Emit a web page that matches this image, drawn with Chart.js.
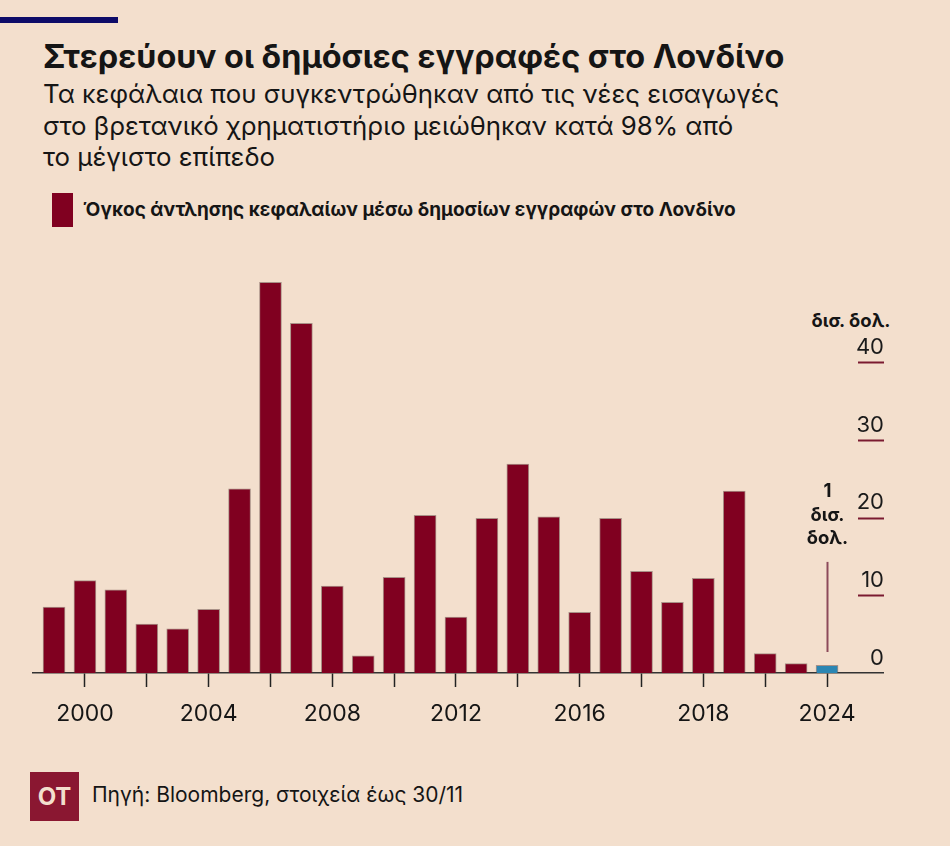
<!DOCTYPE html>
<html>
<head>
<meta charset="utf-8">
<script src="https://cdn.jsdelivr.net/npm/chart.js@4.4.1/dist/chart.umd.min.js"></script>
<style>
  html, body { margin: 0; padding: 0; }
  body { width: 950px; height: 846px; background: #f3dfcd; position: relative; overflow: hidden;
         font-family: Inter, Roboto, "Noto Sans", sans-serif; color: #151515; }
  .bar-top { position: absolute; left: 0; top: 17px; width: 118px; height: 6px; background: #0d0b68; }
  .title { position: absolute; left: 43px; top: 37px; font-size: 32.4px; font-weight: 700; line-height: 40px; white-space: nowrap; }
  .sub { position: absolute; left: 43px; top: 78px; font-size: 25.8px; line-height: 31.5px; white-space: nowrap; }
  .legend { position: absolute; left: 52px; top: 193px; height: 34px; }
  .legend .sw { position: absolute; left: 0; top: 0; width: 21px; height: 34px; background: #800020; }
  .legend .tx { position: absolute; left: 31px; top: 5px; font-size: 19px; font-weight: 700; line-height: 24px; white-space: nowrap; }
  .unit { position: absolute; left: 796px; top: 309px; width: 110px; text-align: center; font-size: 18.5px; font-weight: 700; }
  #wrap { position: absolute; left: 0; top: 240px; width: 950px; height: 505px; }
  .logo { position: absolute; left: 30px; top: 772px; width: 49px; height: 49px; background: #8a1731; color: #f3dfcd;
          font-weight: 700; font-size: 24px; line-height: 49px; text-align: center; }
  .src { position: absolute; left: 92px; top: 781px; font-size: 21px; line-height: 28px; white-space: nowrap; }
</style>
</head>
<body>
<div class="bar-top"></div>
<div class="title">Στερεύουν οι δημόσιες εγγραφές στο Λονδίνο</div>
<div class="sub">Τα κεφάλαια που συγκεντρώθηκαν από τις νέες εισαγωγές<br>στο βρετανικό χρηματιστήριο μειώθηκαν κατά 98% από<br>το μέγιστο επίπεδο</div>
<div class="legend"><div class="sw"></div><div class="tx">Όγκος άντλησης κεφαλαίων μέσω δημοσίων εγγραφών στο Λονδίνο</div></div>
<div class="unit">δισ. δολ.</div>
<div id="wrap"><canvas id="chart"></canvas></div>
<div class="logo">OT</div>
<div class="src">Πηγή: Bloomberg, στοιχεία έως 30/11</div>

<script>
const darkRed = '#800020'
const blue = '#2b86b3'

// data (δισ. δολ.)
const years = [1999, 2000, 2001, 2002, 2003, 2004, 2005, 2006, 2007, 2008, 2009, 2010, 2011,
  2012, 2013, 2014, 2015, 2016, 2017, 2018, 2019, 2020, 2021, 2022, 2023, 2024]
const values = [8.5, 11.9, 10.7, 6.3, 5.7, 8.2, 23.7, 50.3, 45.0, 11.2, 2.2, 12.3, 20.3,
  7.2, 19.9, 26.9, 20.1, 7.8, 19.9, 13.1, 9.1, 12.2, 23.4, 2.5, 1.2, 1.0]

// x ticks every two years, labels as printed in the original
const tickYears = [2000, 2002, 2004, 2006, 2008, 2010, 2012, 2014, 2016, 2018, 2020, 2022, 2024]
const tickLabels = ['2000', '', '2004', '', '2008', '', '2012', '', '2016', '', '2018', '', '2024']
const yTicks = [0, 10, 20, 30, 40]

const barColors = years.map(y => y === 2024 ? blue : darkRed)

// short underline under each value label + callout for 2024
const decorations = {
  id: 'decorations',
  afterDraw(chart) {
    const ctx = chart.ctx
    const xs = chart.scales.x
    const ys = chart.scales.y
    ctx.save()
    ctx.strokeStyle = '#7a1a30'
    ctx.lineWidth = 2
    yTicks.forEach(v => {
      if (v === 0) return
      const py = Math.round(ys.getPixelForValue(v)) + 0.5
      ctx.beginPath()
      ctx.moveTo(ys.left - 25, py)
      ctx.lineTo(ys.left + 1, py)
      ctx.stroke()
    })
    // callout
    const cx = Math.round(xs.getPixelForValue(2024)) + 0.5
    const top = ys.getPixelForValue(14.3)
    ctx.strokeStyle = '#8c4a5a'
    ctx.lineWidth = 2
    ctx.beginPath()
    ctx.moveTo(cx, top)
    ctx.lineTo(cx, ys.getPixelForValue(2.7))
    ctx.stroke()
    ctx.fillStyle = '#151515'
    ctx.font = '700 18.5px Inter, Roboto, sans-serif'
    ctx.textAlign = 'center'
    ctx.textBaseline = 'middle'
    ;['1', 'δισ.', 'δολ.'].forEach((t, i) => {
      ctx.fillText(t, cx, top - 70 + i * 23.5)
    })
    ctx.restore()
  }
}

new Chart(document.getElementById('chart'), {
  type: 'bar',
  data: {
    labels: years,
    datasets: [{
      data: years.map((y, i) => ({ x: y, y: values[i] })),
      backgroundColor: barColors,
      borderColor: 'rgba(80,50,50,0.45)',
      borderWidth: 1,
      barThickness: 22
    }]
  },
  options: {
    responsive: true,
    maintainAspectRatio: false,
    animation: false,
    layout: { padding: { left: 33, right: 67, top: 29, bottom: 0 } },
    plugins: { legend: { display: false }, tooltip: { enabled: false } },
    scales: {
      x: {
        type: 'linear',
        offset: false,
        min: 1998.32,
        max: 2025.81,
        afterBuildTicks: s => { s.ticks = tickYears.map(v => ({ value: v })) },
        afterFit: s => { s.height = 72 },
        grid: { offset: false, drawOnChartArea: false, drawTicks: true, tickLength: 14, tickColor: '#222', tickWidth: 1.5 },
        border: { display: true, color: '#333', width: 1.5 },
        ticks: {
          padding: 13,
          maxRotation: 0,
          autoSkip: false,
          color: '#151515',
          font: { family: 'Inter, Roboto, sans-serif', size: 23 },
          callback: v => tickLabels[tickYears.indexOf(v)] ?? ''
        }
      },
      y: {
        position: 'right',
        min: 0,
        max: 52,
        afterBuildTicks: s => { s.ticks = yTicks.map(v => ({ value: v })) },
        afterFit: s => { s.width = 0 },
        grid: { display: false, drawTicks: false },
        border: { display: false },
        ticks: {
          mirror: true,
          padding: 1,
          labelOffset: -15,
          color: '#1a1a1a',
          font: { family: 'Inter, Roboto, sans-serif', size: 22 }
        }
      }
    }
  },
  plugins: [decorations]
})
</script>
</body>
</html>
